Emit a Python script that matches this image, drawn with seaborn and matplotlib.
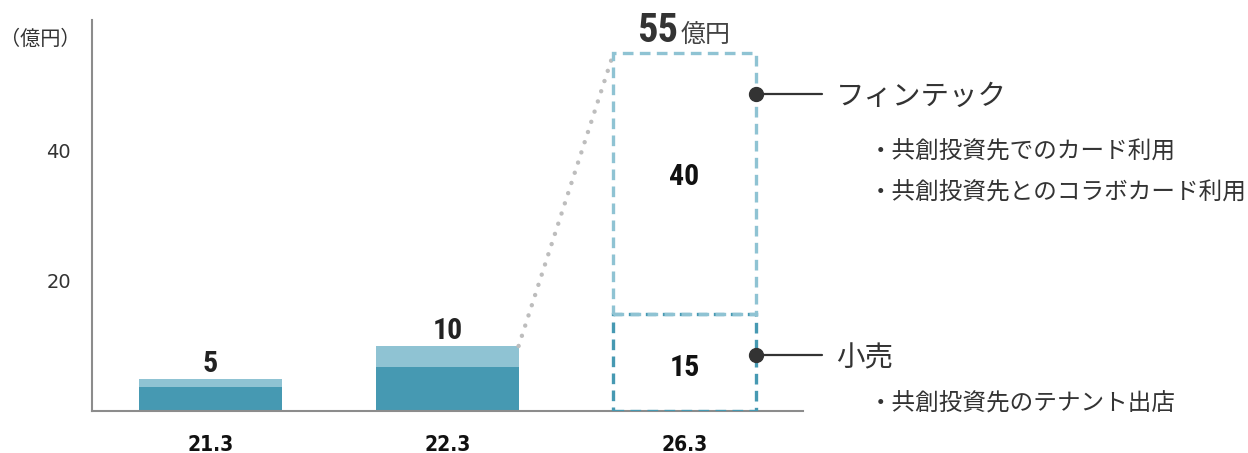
import os
import matplotlib
matplotlib.use("Agg")
import matplotlib.pyplot as plt
from matplotlib import font_manager as fm
import pandas as pd
import seaborn as sns

# ---- data ----------------------------------------------------------------
periods = ["21.3", "22.3", "26.3"]
retail = [3.7, 6.8, 15]
fintech = [1.3, 3.2, 40]
totals = [r + f for r, f in zip(retail, fintech)]
y_ticks = [20, 40]
unit_label = "（億円）"
goal_unit = "億円"
segment_titles = ["フィンテック", "小売"]
fintech_items = ["・共創投資先でのカード利用", "・共創投資先とのコラボカード利用"]
retail_items = ["・共創投資先のテナント出店"]

# ---- style ---------------------------------------------------------------
LIGHT = "#8fc3d3"
DARK = "#4699b2"
INK = "#333333"
SPINE = "#8c8c8c"

sns.set_theme(style="white")
plt.rcParams["font.family"] = ["Noto Sans CJK JP", "DejaVu Sans"]


def pick_font(prefs, size):
    """Return the first available face whose file name starts with a pref."""
    found = {}
    for f in fm.fontManager.ttflist:
        base = os.path.basename(f.fname).lower()
        for p in prefs:
            if base.startswith(p) and "italic" not in base and "oblique" not in base:
                found.setdefault(p, f.fname)
    for p in prefs:
        if p in found:
            return fm.FontProperties(fname=found[p], size=size)
    return fm.FontProperties(family="DejaVu Sans", weight="bold",
                             stretch="condensed", size=size)


NARROW = ["robotocondensed-bold", "liberationsansnarrow-bold",
          "dejavusanscondensed-bold"]
WIDER = ["dejavusanscondensed-bold", "robotocondensed-bold",
         "liberationsansnarrow-bold"]

W, H = 1248, 453
fig = plt.figure(figsize=(W / 100, H / 100), dpi=100)
ax = fig.add_axes([92 / W, 42 / H, 711 / W, 391 / H])

# ---- actual results: stacked bars ---------------------------------------
df = pd.DataFrame({"period": periods, "total": totals, "retail": retail})
actual = df.iloc[:2]
sns.barplot(data=actual, x="period", y="total", order=periods, color=LIGHT,
            saturation=1, width=0.6, linewidth=0, ax=ax)
sns.barplot(data=actual, x="period", y="retail", order=periods, color=DARK,
            saturation=1, width=0.6, linewidth=0, ax=ax)

# ---- target: dashed outline boxes ---------------------------------------
dash = (0, (3.2, 1.9))
for bottom, height, col in [(0, retail[2], DARK), (retail[2], fintech[2], LIGHT)]:
    ax.bar(2, height, bottom=bottom, width=0.6, fill=False,
           edgecolor=col, linewidth=2.4, linestyle=dash, zorder=3)

# dotted connector from the latest actual to the target
ax.plot([1.3, 1.7], [totals[1], totals[2]], color="#bdbdbd", lw=3.2,
        linestyle=(0, (0.01, 2.4)), dash_capstyle="round", zorder=2)

ax.set_xlim(-0.5, 2.5)
ax.set_ylim(0, 391 / 6.5)

# ---- value labels --------------------------------------------------------
for i in range(2):
    ax.annotate(f"{totals[i]:g}", (i, totals[i]), xytext=(0, 5),
                textcoords="offset points", ha="center", va="baseline",
                fontproperties=pick_font(NARROW, 21.5), color="#222222")

ax.annotate(f"{totals[2]:g}", (2, totals[2]), xytext=(-4.5, 8),
            textcoords="offset points", ha="right", va="baseline",
            fontproperties=pick_font(NARROW, 29), color="#333333")
ax.annotate(goal_unit, (2, totals[2]), xytext=(-2.5, 8),
            textcoords="offset points", ha="left", va="baseline",
            fontsize=18, color="#444444")

mid_f = retail[2] + fintech[2] / 2
mid_r = retail[2] / 2
ax.annotate(f"{fintech[2]:g}", (2, mid_f), xytext=(0, 4.5),
            textcoords="offset points", ha="center", va="center",
            fontproperties=pick_font(NARROW, 21.5), color="#111111")
ax.annotate(f"{retail[2]:g}", (2, mid_r), xytext=(0, -4),
            textcoords="offset points", ha="center", va="center",
            fontproperties=pick_font(NARROW, 21.5), color="#111111")

# ---- segment callouts ----------------------------------------------------
callouts = [(48.8, segment_titles[0]), (8.6, segment_titles[1])]
for yv, title in callouts:
    ax.plot([2.3, 2.58], [yv, yv], color=INK, lw=1.6, clip_on=False, zorder=4)
    ax.plot([2.3], [yv], "o", ms=10, color=INK, clip_on=False, zorder=5)
    ax.annotate(title, (2.64, yv), xytext=(0, -2.5), textcoords="offset points",
                ha="left", va="center", fontsize=20.5, color=INK,
                annotation_clip=False)

for yv, item in zip([39.8, 33.5], fintech_items):
    ax.text(2.778, yv, item, ha="left", va="center", fontsize=17,
            color=INK, clip_on=False)
for yv, item in zip([1.1], retail_items):
    ax.text(2.778, yv, item, ha="left", va="center", fontsize=17,
            color=INK, clip_on=False)

# ---- axes ----------------------------------------------------------------
ax.set_yticks(y_ticks)
ax.set_yticklabels([str(t) for t in y_ticks])
ax.tick_params(axis="y", length=0, pad=15, labelsize=14, labelcolor=INK)
ax.tick_params(axis="x", length=0, pad=17)
ax.set_xticks(range(len(periods)))
ax.set_xticklabels(periods)
xfp = pick_font(WIDER, 15)
for lbl in ax.get_xticklabels():
    lbl.set_fontproperties(xfp)
    lbl.set_color("#111111")
for lbl in ax.get_yticklabels():
    lbl.set_family(["DejaVu Sans"])
ax.set_xlabel("")
ax.set_ylabel("")
for s in ["top", "right"]:
    ax.spines[s].set_visible(False)
for s in ["left", "bottom"]:
    ax.spines[s].set_color(SPINE)
    ax.spines[s].set_linewidth(1.5)

fig.text(40 / W, 1 - 39 / H, unit_label, ha="center", va="center",
         fontsize=14.5, color=INK)

fig.savefig("out.png", dpi=100)
